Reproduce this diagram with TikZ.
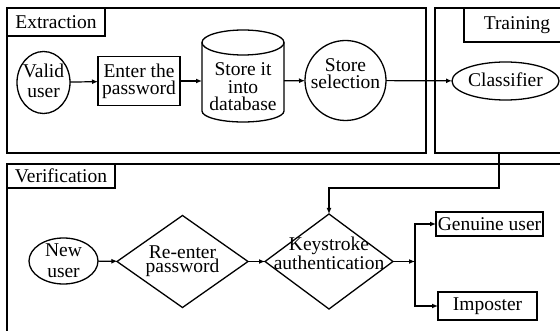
\documentclass[tikz,border=0pt]{standalone}
\usepackage{fontspec}
\setmainfont{Liberation Serif}
\usetikzlibrary{shapes.geometric,arrows.meta}
\begin{document}
\begin{tikzpicture}[x=1pt,y=-1pt,
  every node/.style={font=\fontsize{19.5}{17}\selectfont, inner sep=0pt, outer sep=0pt},
  frame/.style={draw, line width=1.3pt, anchor=north west},
  tag/.style={draw, line width=1.3pt, anchor=north west},
  shp/.style={draw, line width=1.3pt, align=center},
  txt/.style={align=center},
  arr/.style={-{Latex[length=6pt,width=5pt]}, line width=1.2pt},
  lnk/.style={line width=1.2pt}]
\useasboundingbox (0,0) rectangle (560,331);
\clip (0,0) rectangle (560,331);

% frames
\node[frame, minimum width=419pt, minimum height=145pt] (extr) at (7,8) {};
\node[frame, minimum width=128pt, minimum height=145pt] (train) at (435,8) {};
\node[frame, minimum width=570pt, minimum height=200pt] (verif) at (7,164) {};

% tags
\node[tag, minimum width=98pt, minimum height=28pt] (tagE) at (7,8) {Extraction};
\node[tag, minimum width=106pt, minimum height=34pt] (tagT) at (464,8) {Training};
\node[tag, minimum width=108pt, minimum height=24pt] (tagV) at (7,164) {Verification};

% extraction row
\node[shp, ellipse, minimum width=53pt, minimum height=62pt] (valid) at (43.5,82.5) {};
\node[txt, font=\fontsize{19.5}{20}\selectfont] (validt) at (43.5,81) {Valid\\user};
\node[shp, line width=1.6pt, minimum width=82pt, minimum height=49pt,
      font=\fontsize{19.5}{17}\selectfont] (enter) at (139,81) {Enter the\\password};

% cylinder
\draw[line width=1.3pt] (243,42.5) ellipse [x radius=41pt, y radius=12.5pt];
\draw[line width=1.3pt] (202,42.5) -- (202,111)
   arc[start angle=180, end angle=360, x radius=41pt, y radius=11pt] -- (284,42.5);
\node[minimum width=82pt, minimum height=70pt] (db) at (243,81) {};
\node[txt, font=\fontsize{19.5}{17.5}\selectfont] (dbt) at (243,87) {Store it\\into\\database};

\node[shp, ellipse, minimum width=81pt, minimum height=80pt] (sel) at (345.5,80.5) {};
\node[txt, font=\fontsize{19.5}{17}\selectfont] (selt) at (345.5,74) {Store\\selection};

\node[shp, ellipse, minimum width=107pt, minimum height=38pt] (cls) at (505.5,81) {};
\node[txt] (clst) at (505.5,80) {Classifier};

% verification row
\node[shp, ellipse, minimum width=69pt, minimum height=46pt] (new) at (63.5,261) {};
\node[txt, font=\fontsize{19.5}{21}\selectfont] (newt) at (63.5,261) {New\\user};

\node[shp, diamond, aspect=1.42, minimum width=131pt, minimum height=92pt] (re) at (182.5,261.5) {};
\node[txt, font=\fontsize{19.5}{14}\selectfont] (ret) at (182.5,261) {Re-enter\\password};

\node[shp, diamond, aspect=1.35, minimum width=128pt, minimum height=95pt] (key) at (329,261.5) {};
\node[txt, font=\fontsize{19.5}{12}\selectfont] (keyt) at (329,253) {Keystroke\\authentication};

\node[shp, minimum width=107pt, minimum height=24pt] (gen) at (489.5,224) {Genuine user};
\node[shp, line width=1.6pt, minimum width=99pt, minimum height=28pt] (imp) at (487.5,306) {Imposter};

\coordinate (split) at (415,261.5);

% connectors
\draw[arr] (valid) -- (enter);
\draw[arr] (enter) -- (db);
\draw[arr] (db) -- (sel);
\draw[arr] (sel) -- (cls);
\draw[arr] (train.south) -- ++(0,35) -| (key.north);
\draw[arr] (new) -- (re);
\draw[arr] (re) -- (key);
\draw[arr] (key.east) -- (split);
\draw[arr] (split) |- (gen.west);
\draw[arr] (split) |- (imp.west);
\end{tikzpicture}
\end{document}
